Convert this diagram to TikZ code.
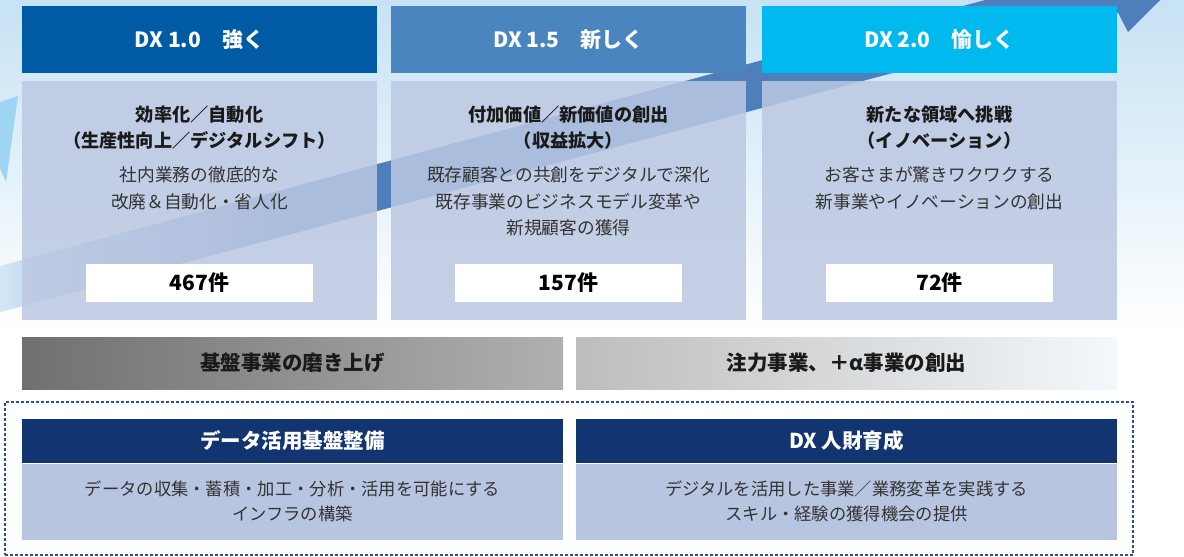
\documentclass[tikz,border=0pt]{standalone}
\usepackage{fontspec}
\setmainfont{Noto Sans CJK JP}
\definecolor{bgtop}{HTML}{C6E2F4}
\definecolor{bandblue}{HTML}{4F7FBB}
\definecolor{bandlight}{HTML}{D4E7F6}
\definecolor{tri}{HTML}{9ED5F3}
\definecolor{hA}{HTML}{005BA5}
\definecolor{hB}{HTML}{4A85BF}
\definecolor{hC}{HTML}{00B9EF}
\definecolor{cbox}{HTML}{BCC8E2}
\definecolor{navy}{HTML}{123571}
\definecolor{cboxb}{HTML}{B8C5E1}
\definecolor{dashc}{HTML}{2E4F8F}
\definecolor{gA}{HTML}{707070}
\definecolor{gB}{HTML}{B0B0B0}
\definecolor{gC}{HTML}{BDBDBD}
\definecolor{gD}{HTML}{F3F8FC}
\definecolor{txt}{HTML}{1A1A1A}
\definecolor{txtr}{HTML}{333333}
\tikzset{
 hdr/.style={minimum width=355pt, minimum height=67pt, inner sep=0pt, text=white, font=\fontsize{21}{24}\selectfont\bfseries},
 cnt/.style={minimum width=355pt, minimum height=239pt, inner sep=0pt, fill=cbox, fill opacity=0.85},
 cntbox/.style={fill=white, minimum width=227pt, minimum height=38pt, inner sep=0pt, font=\fontsize{21}{24}\selectfont\bfseries, text=black},
 ttl/.style={align=center, text=txt, font=\fontsize{18.2}{26}\selectfont\bfseries},
 bdy/.style={align=center, text=txtr, font=\fontsize{17.7}{26.5}\selectfont},
 barbox/.style={minimum width=541pt, minimum height=52pt, inner sep=0pt, font=\fontsize{20.5}{24}\selectfont\bfseries, text=txt},
 nhdr/.style={fill=navy, minimum width=541pt, minimum height=43.5pt, inner sep=0pt, text=white, font=\fontsize{20.5}{24}\selectfont\bfseries},
 ncnt/.style={fill=cboxb, minimum width=541pt, minimum height=76.5pt, inner sep=0pt, text=txtr, align=center, font=\fontsize{17.3}{25}\selectfont},
 frame/.style={draw=dashc, line width=1.1pt, dash pattern=on 3pt off 2pt, minimum width=1128pt, minimum height=153pt, inner sep=0pt},
}
\begin{document}
\begin{tikzpicture}[x=1pt,y=-1pt]
\useasboundingbox (0,0) rectangle (1184,557);
\fill[white] (0,0) rectangle (1184,557);
\shade[top color=bgtop, bottom color=white] (0,0) rectangle (1184,330);
\begin{scope}
\clip (0,0) rectangle (1184,557);
\fill[tri] (0,102) -- (18,96) -- (6,182) -- (0,168) -- cycle;
\shade[left color=bandlight, right color=bandblue] (-2,266.5) -- (300,185) -- (300,231.8) -- (-2,312.7) -- cycle;
\fill[bandblue] (298,185.5) -- (1118,-35.9) -- (1095,-110) -- (1192,-31.5) -- (1128,32) -- (1118,12.6) -- (298,232.3) -- cycle;
\end{scope}
% top headers
\node[hdr, fill=hA] (h1) at (199.5,39.5) {DX 1.0　強く};
\node[hdr, fill=hB] (h2) at (568.5,39.5) {DX 1.5　新しく};
\node[hdr, fill=hC] (h3) at (939.5,39.5) {DX 2.0　愉しく};
% content boxes
\node[cnt] (c1) at (199.5,200.5) {};
\node[cnt] (c2) at (568.5,200.5) {};
\node[cnt] (c3) at (939.5,200.5) {};
\node[ttl] (t1) at (199.5,128) {効率化／自動化\\（生産性向上／デジタルシフト）};
\node[ttl] (t2) at (568.5,128) {付加価値／新価値の創出\\（収益拡大）};
\node[ttl] (t3) at (939.5,128) {新たな領域へ挑戦\\（イノベーション）};
\node[bdy] (d1) at (199.5,188.5) {社内業務の徹底的な\\改廃＆自動化・省人化};
\node[bdy] (d2) at (568.5,201.5) {既存顧客との共創をデジタルで深化\\既存事業のビジネスモデル変革や\\新規顧客の獲得};
\node[bdy] (d3) at (939.5,188.5) {お客さまが驚きワクワクする\\新事業やイノベーションの創出};
\node[cntbox] (n1) at (199.5,283) {467件};
\node[cntbox] (n2) at (568.5,283) {157件};
\node[cntbox] (n3) at (939.5,283) {72件};
% bars
\node[barbox, left color=gA, right color=gB] (b1) at (292.5,363) {基盤事業の磨き上げ};
\node[barbox, left color=gC, right color=gD] (b2) at (846.5,363) {注力事業、＋α事業の創出};
% bottom frame
\node[frame] (fr) at (569,478.5) {};
\node[nhdr] (nh1) at (292.5,440.75) {データ活用基盤整備};
\node[nhdr] (nh2) at (846.5,440.75) {DX 人財育成};
\node[ncnt] (nc1) at (292.5,501.75) {データの収集・蓄積・加工・分析・活用を可能にする\\インフラの構築};
\node[ncnt] (nc2) at (846.5,501.75) {デジタルを活用した事業／業務変革を実践する\\スキル・経験の獲得機会の提供};
\end{tikzpicture}
\end{document}
